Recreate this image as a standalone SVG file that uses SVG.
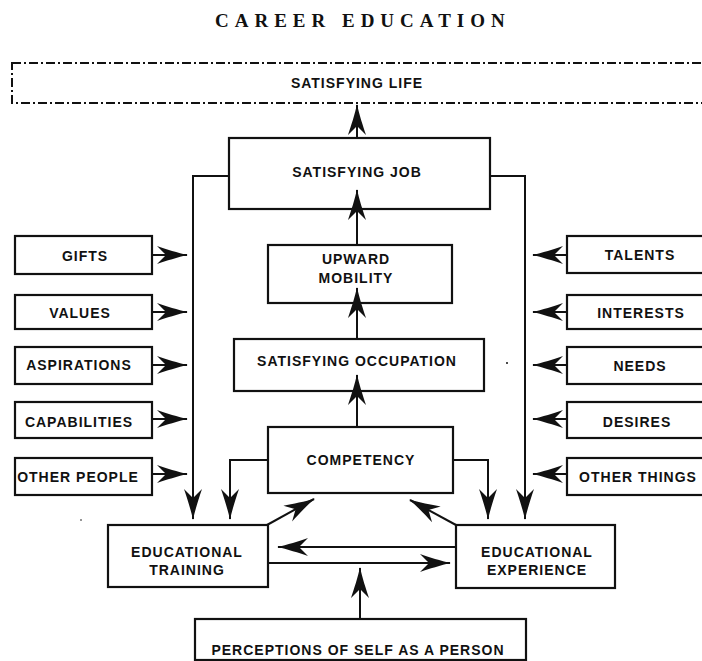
<svg xmlns="http://www.w3.org/2000/svg" width="702" height="661" viewBox="0 0 702 661">
  <defs>
    <style>
      .box { fill: #fff; stroke: #111; stroke-width: 2.2; }
      .lbl { font-family: "Liberation Sans", Arial, sans-serif; font-weight: bold; font-size: 14px; letter-spacing: 1px; fill: #111; text-anchor: middle; }
      .title { font-family: "Liberation Serif", "Times New Roman", serif; font-weight: bold; font-size: 19px; letter-spacing: 6px; fill: #111; }
      .arrow { fill: none; stroke: #111; stroke-width: 2; marker-end: url(#head); }
      .dash { fill: none; stroke: #111; stroke-width: 2; stroke-dasharray: 9 3 2 3; }
    </style>
    <!-- narrow concave arrowhead, tip at the path end -->
    <marker id="head" viewBox="-32 -10 34 20" refX="0" refY="0" markerWidth="34" markerHeight="20" markerUnits="userSpaceOnUse" orient="auto">
      <path d="M1,0 C-9,-2 -21,-6 -30,-9 L-21,0 L-30,9 C-21,6 -9,2 1,0 Z" fill="#111"/>
    </marker>
  </defs>

  <rect width="702" height="661" fill="#fff"/>

  <text class="title" x="215" y="27">CAREER EDUCATION</text>

  <g id="satisfying-life">
    <rect class="dash" x="12" y="63" width="720" height="40"/>
    <text class="lbl" x="357" y="88">SATISFYING LIFE</text>
  </g>

  <g id="satisfying-job">
    <rect class="box" x="229" y="138" width="261" height="71"/>
    <text class="lbl" x="357" y="177">SATISFYING JOB</text>
  </g>

  <g id="upward-mobility">
    <rect class="box" x="268" y="245" width="184" height="58"/>
    <text class="lbl" x="356" y="264">UPWARD</text>
    <text class="lbl" x="356" y="283">MOBILITY</text>
  </g>

  <g id="satisfying-occupation">
    <rect class="box" x="234" y="339" width="250" height="52"/>
    <text class="lbl" x="357" y="366">SATISFYING OCCUPATION</text>
  </g>

  <g id="competency">
    <rect class="box" x="268" y="427" width="185" height="66"/>
    <text class="lbl" x="361" y="465">COMPETENCY</text>
  </g>

  <!-- left column -->
  <g id="gifts">
    <rect class="box" x="15" y="236" width="137" height="38"/>
    <text class="lbl" x="85" y="261">GIFTS</text>
  </g>
  <g id="values">
    <rect class="box" x="15" y="295" width="137" height="34"/>
    <text class="lbl" x="80" y="318">VALUES</text>
  </g>
  <g id="aspirations">
    <rect class="box" x="15" y="347" width="137" height="37"/>
    <text class="lbl" x="79" y="370">ASPIRATIONS</text>
  </g>
  <g id="capabilities">
    <rect class="box" x="15" y="402" width="137" height="36"/>
    <text class="lbl" x="79" y="427">CAPABILITIES</text>
  </g>
  <g id="other-people">
    <rect class="box" x="15" y="458" width="137" height="37"/>
    <text class="lbl" x="78" y="482">OTHER PEOPLE</text>
  </g>

  <!-- right column -->
  <g id="talents">
    <rect class="box" x="567" y="236" width="145" height="37"/>
    <text class="lbl" x="640" y="260">TALENTS</text>
  </g>
  <g id="interests">
    <rect class="box" x="567" y="295" width="145" height="34"/>
    <text class="lbl" x="641" y="318">INTERESTS</text>
  </g>
  <g id="needs">
    <rect class="box" x="567" y="347" width="145" height="37"/>
    <text class="lbl" x="640" y="371">NEEDS</text>
  </g>
  <g id="desires">
    <rect class="box" x="567" y="402" width="145" height="36"/>
    <text class="lbl" x="637" y="427">DESIRES</text>
  </g>
  <g id="other-things">
    <rect class="box" x="567" y="458" width="145" height="37"/>
    <text class="lbl" x="638" y="482">OTHER THINGS</text>
  </g>

  <g id="educational-training">
    <rect class="box" x="108" y="525" width="160" height="62"/>
    <text class="lbl" x="187" y="557">EDUCATIONAL</text>
    <text class="lbl" x="187" y="575">TRAINING</text>
  </g>

  <g id="educational-experience">
    <rect class="box" x="456" y="525" width="159" height="63"/>
    <text class="lbl" x="537" y="557">EDUCATIONAL</text>
    <text class="lbl" x="537" y="575">EXPERIENCE</text>
  </g>

  <g id="perceptions-of-self">
    <rect class="box" x="195" y="619" width="331" height="41"/>
    <text class="lbl" x="358" y="655">PERCEPTIONS OF SELF AS A PERSON</text>
  </g>

  <!-- connectors, drawn last so heads that run into a box stay visible -->
  <g id="connectors">
    <!-- main spine -->
    <line class="arrow" x1="357" y1="138" x2="357" y2="105"/>
    <line class="arrow" x1="357" y1="245" x2="357" y2="190"/>
    <line class="arrow" x1="357" y1="339" x2="357" y2="288"/>
    <line class="arrow" x1="357" y1="427" x2="357" y2="375"/>

    <!-- job feedback lines down to the education boxes -->
    <polyline class="arrow" points="229,176 193,176 193,519"/>
    <polyline class="arrow" points="490,176 525,176 525,519"/>
    <!-- competency feedback -->
    <polyline class="arrow" points="268,460 230,460 230,519"/>
    <polyline class="arrow" points="453,460 488,460 488,519"/>

    <!-- left inputs -->
    <line class="arrow" x1="152" y1="255" x2="187" y2="255"/>
    <line class="arrow" x1="152" y1="312" x2="187" y2="312"/>
    <line class="arrow" x1="152" y1="365" x2="187" y2="365"/>
    <line class="arrow" x1="152" y1="419" x2="187" y2="419"/>
    <line class="arrow" x1="152" y1="474" x2="187" y2="474"/>

    <!-- right inputs -->
    <line class="arrow" x1="567" y1="255" x2="533" y2="255"/>
    <line class="arrow" x1="567" y1="312" x2="533" y2="312"/>
    <line class="arrow" x1="567" y1="365" x2="533" y2="365"/>
    <line class="arrow" x1="567" y1="419" x2="533" y2="419"/>
    <line class="arrow" x1="567" y1="474" x2="533" y2="474"/>

    <!-- education boxes to competency -->
    <line class="arrow" x1="267" y1="525" x2="314" y2="499"/>
    <line class="arrow" x1="456" y1="525" x2="410" y2="500"/>

    <!-- exchange between training and experience -->
    <line class="arrow" x1="456" y1="547" x2="278" y2="547"/>
    <line class="arrow" x1="268" y1="563" x2="450" y2="563"/>

    <!-- self perception -->
    <line class="arrow" x1="360" y1="619" x2="360" y2="568"/>
  </g>

  <!-- specks -->
  <circle cx="507" cy="363" r="1" fill="#111"/>
  <circle cx="81" cy="520" r="0.8" fill="#111"/>
</svg>
